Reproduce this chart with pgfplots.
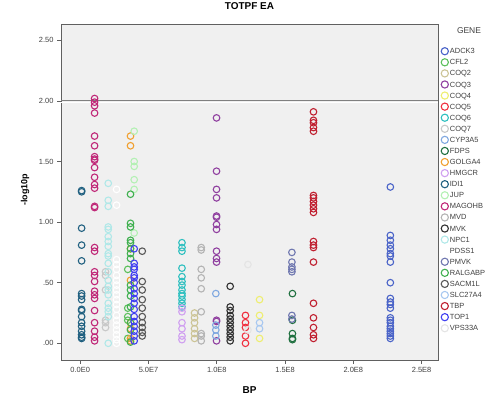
\documentclass[border=0pt]{standalone}
\usepackage{fontspec}
\setmainfont{Liberation Sans}
\usepackage{pgfplots}
\pgfplotsset{compat=1.18}
\definecolor{cADCK3}{HTML}{4A63C8}
\definecolor{cCFL2}{HTML}{5CC05C}
\definecolor{cCOQ2}{HTML}{CCC496}
\definecolor{cCOQ3}{HTML}{9040A0}
\definecolor{cCOQ4}{HTML}{EEEE70}
\definecolor{cCOQ5}{HTML}{F03040}
\definecolor{cCOQ6}{HTML}{30C0C0}
\definecolor{cCOQ7}{HTML}{C8C8C8}
\definecolor{cCYP3A5}{HTML}{80A8E0}
\definecolor{cFDPS}{HTML}{207040}
\definecolor{cGOLGA4}{HTML}{F0A030}
\definecolor{cHMGCR}{HTML}{D0A0F0}
\definecolor{cIDI1}{HTML}{206080}
\definecolor{cJUP}{HTML}{B4F0B4}
\definecolor{cMAGOHB}{HTML}{C02878}
\definecolor{cMVD}{HTML}{B4B4B4}
\definecolor{cMVK}{HTML}{303030}
\definecolor{cNPC1}{HTML}{B0E8E8}
\definecolor{cPDSS1}{HTML}{FFFFFF}
\definecolor{cPMVK}{HTML}{7078B0}
\definecolor{cRALGABP}{HTML}{40B050}
\definecolor{cSACM1L}{HTML}{585858}
\definecolor{cSLC27A4}{HTML}{A8C8F0}
\definecolor{cTBP}{HTML}{C02030}
\definecolor{cTOP1}{HTML}{4040F0}
\definecolor{cVPS33A}{HTML}{E4E4E4}
\definecolor{frame}{HTML}{606060}
\definecolor{txt}{HTML}{404040}
\definecolor{plotbg}{HTML}{F0F0F0}
\pgfplotsset{
  gene/.style={only marks, mark=o, color=#1, mark size=3.3bp, line width=1.1bp,
    legend image code/.code={\draw[color=#1, line width=1.1bp, mark=o, mark size=3.6bp] plot coordinates {(0bp,0bp)};}},
}
\begin{document}
\begin{tikzpicture}
\path[use as bounding box] (0,0) rectangle (501bp,400bp);
\begin{axis}[
  at={(61bp,40bp)}, anchor=south west,
  scale only axis, width=377bp, height=336bp,
  xmin=-1.41e7, xmax=2.62e8, ymin=-0.138, ymax=2.635,
  axis background/.style={fill=plotbg},
  axis line style={frame, line width=0.8bp},
  xtick={0,5e7,1e8,1.5e8,2e8,2.5e8},
  xticklabels={0.0E0,5.0E7,1.0E8,1.5E8,2.0E8,2.5E8},
  ytick={0,0.5,1,1.5,2,2.5},
  yticklabels={.00,.50,1.00,1.50,2.00,2.50},
  xtick pos=lower, ytick pos=left, tick align=outside,
  major tick length=4bp,
  tick style={frame, line width=0.8bp},
  ticklabel style={font=\fontsize{7.5}{8}\selectfont, text=txt},
  scaled x ticks=false,
  title={\textbf{TOTPF EA}},
  title style={font=\fontsize{10}{11}\selectfont, at={(axis description cs:0.5,1)}, anchor=center, yshift=12bp},
  xlabel={\textbf{BP}},
  xlabel style={font=\fontsize{10}{11}\selectfont, at={(axis description cs:0.5,0)}, anchor=center, yshift=-30bp},
  legend style={at={(1,1)}, anchor=north west, xshift=3bp, yshift=-21.5bp,
    draw=none, fill=none, inner sep=0pt, row sep=0pt, column sep=1.5bp,
    font=\fontsize{7.5}{8}\selectfont, text=txt,
    nodes={inner sep=0pt, minimum height=11.08bp, text height=5.6bp, text depth=0.5bp}},
  legend cell align=left,
  clip=false,
]
\addplot[draw=frame!80, line width=0.9bp, no markers, sharp plot, forget plot] coordinates {(-1.41e7,2) (2.62e8,2)};
\addplot[draw=white, line width=0.7bp, no markers, sharp plot, forget plot] coordinates {(-1.41e7,1.988) (2.62e8,1.988)};

\addplot[gene=cADCK3] coordinates {(2.271e8,1.29)(2.271e8,0.89)(2.271e8,0.85)(2.271e8,0.81)(2.271e8,0.78)(2.271e8,0.74)(2.271e8,0.72)(2.271e8,0.67)(2.271e8,0.50)(2.271e8,0.37)(2.271e8,0.34)(2.271e8,0.32)(2.271e8,0.29)(2.271e8,0.21)(2.271e8,0.19)(2.271e8,0.17)(2.271e8,0.14)(2.271e8,0.12)(2.271e8,0.10)(2.271e8,0.08)(2.271e8,0.06)(2.271e8,0.04)};
\addlegendentry{ADCK3}
\addplot[gene=cCFL2] coordinates {(3.48e7,0.61)(3.48e7,0.29)(3.48e7,0.22)(3.48e7,0.19)(3.48e7,0.04)};
\addlegendentry{CFL2}
\addplot[gene=cCOQ2] coordinates {(8.37e7,0.25)(8.37e7,0.21)(8.37e7,0.17)(8.37e7,0.12)(8.37e7,0.08)(8.37e7,0.04)};
\addlegendentry{COQ2}
\addplot[gene=cCOQ3] coordinates {(9.98e7,1.86)(9.98e7,1.42)(9.98e7,1.27)(9.98e7,1.20)(9.98e7,1.05)(9.98e7,1.04)(9.98e7,0.98)(9.98e7,0.94)(9.98e7,0.76)(9.98e7,0.70)(9.98e7,0.67)(9.98e7,0.19)(9.98e7,0.18)(9.98e7,0.02)};
\addlegendentry{COQ3}
\addplot[gene=cCOQ4] coordinates {(1.313e8,0.36)(1.313e8,0.23)(1.313e8,0.04)};
\addlegendentry{COQ4}
\addplot[gene=cCOQ5] coordinates {(1.21e8,0.23)(1.21e8,0.17)(1.21e8,0.13)(1.21e8,0.06)(1.21e8,0.0)};
\addlegendentry{COQ5}
\addplot[gene=cCOQ6] coordinates {(7.45e7,0.83)(7.45e7,0.79)(7.45e7,0.76)(7.45e7,0.62)(7.45e7,0.55)(7.45e7,0.51)(7.45e7,0.48)(7.45e7,0.44)(7.45e7,0.41)(7.45e7,0.39)(7.45e7,0.36)(7.45e7,0.33)(7.45e7,0.30)};
\addlegendentry{COQ6}
\addplot[gene=cCOQ7] coordinates {(1.85e7,0.59)(1.85e7,0.56)(1.85e7,0.44)(1.85e7,0.19)(1.85e7,0.17)(1.85e7,0.13)};
\addlegendentry{COQ7}
\addplot[gene=cCYP3A5] coordinates {(9.93e7,0.41)(9.93e7,0.15)(9.93e7,0.11)(9.93e7,0.06)};
\addlegendentry{CYP3A5}
\addplot[gene=cFDPS] coordinates {(1.554e8,0.41)(1.554e8,0.19)(1.554e8,0.08)(1.554e8,0.04)(1.554e8,0.03)};
\addlegendentry{FDPS}
\addplot[gene=cGOLGA4] coordinates {(3.68e7,1.71)(3.68e7,1.63)(3.68e7,0.78)(3.68e7,0.52)(3.68e7,0.17)(3.68e7,0.12)(3.68e7,0.04)(3.68e7,0.02)};
\addlegendentry{GOLGA4}
\addplot[gene=cHMGCR] coordinates {(7.45e7,0.29)(7.45e7,0.26)(7.45e7,0.17)(7.45e7,0.12)(7.45e7,0.06)(7.45e7,0.03)};
\addlegendentry{HMGCR}
\addplot[gene=cIDI1] coordinates {(1.0e6,1.26)(1.0e6,1.25)(1.0e6,0.95)(1.0e6,0.81)(1.0e6,0.68)(1.0e6,0.41)(1.0e6,0.39)(1.0e6,0.36)(1.0e6,0.28)(1.0e6,0.27)(1.0e6,0.22)(1.0e6,0.17)(1.0e6,0.14)(1.0e6,0.10)(1.0e6,0.07)(1.0e6,0.05)(1.0e6,0.04)};
\addlegendentry{IDI1}
\addplot[gene=cJUP] coordinates {(3.95e7,1.75)(3.95e7,1.50)(3.95e7,1.46)(3.95e7,1.35)(3.95e7,1.27)(3.95e7,0.91)};
\addlegendentry{JUP}
\addplot[gene=cMAGOHB] coordinates {(1.05e7,2.02)(1.05e7,1.99)(1.05e7,1.96)(1.05e7,1.90)(1.05e7,1.71)(1.05e7,1.63)(1.05e7,1.54)(1.05e7,1.52)(1.05e7,1.51)(1.05e7,1.45)(1.05e7,1.37)(1.05e7,1.31)(1.05e7,1.28)(1.05e7,1.13)(1.05e7,1.12)(1.05e7,0.79)(1.05e7,0.76)(1.05e7,0.59)(1.05e7,0.56)(1.05e7,0.51)(1.05e7,0.43)(1.05e7,0.40)(1.05e7,0.37)(1.05e7,0.27)(1.05e7,0.17)(1.05e7,0.10)(1.05e7,0.05)(1.05e7,0.02)};
\addlegendentry{MAGOHB}
\addplot[gene=cMVD] coordinates {(8.86e7,0.79)(8.86e7,0.77)(8.86e7,0.61)(8.86e7,0.54)(8.86e7,0.45)(8.86e7,0.26)(8.86e7,0.08)(8.86e7,0.06)(8.86e7,0.02)};
\addlegendentry{MVD}
\addplot[gene=cMVK] coordinates {(1.098e8,0.47)(1.098e8,0.30)(1.098e8,0.27)(1.098e8,0.23)(1.098e8,0.20)(1.098e8,0.17)(1.098e8,0.14)(1.098e8,0.11)(1.098e8,0.08)(1.098e8,0.05)(1.098e8,0.02)};
\addlegendentry{MVK}
\addplot[gene=cNPC1] coordinates {(2.05e7,1.32)(2.05e7,1.18)(2.05e7,1.13)(2.05e7,0.96)(2.05e7,0.94)(2.05e7,0.88)(2.05e7,0.84)(2.05e7,0.80)(2.05e7,0.74)(2.05e7,0.72)(2.05e7,0.66)(2.05e7,0.59)(2.05e7,0.52)(2.05e7,0.47)(2.05e7,0.44)(2.05e7,0.40)(2.05e7,0.33)(2.05e7,0.29)(2.05e7,0.26)(2.05e7,0.22)(2.05e7,0.0)};
\addlegendentry{NPC1}
\addplot[gene=cPDSS1] coordinates {(2.66e7,1.27)(2.66e7,1.14)(2.66e7,0.69)(2.66e7,0.65)(2.66e7,0.61)(2.66e7,0.56)(2.66e7,0.52)(2.66e7,0.48)(2.66e7,0.44)(2.66e7,0.40)(2.66e7,0.36)(2.66e7,0.32)(2.66e7,0.28)(2.66e7,0.23)(2.66e7,0.19)(2.66e7,0.15)(2.66e7,0.11)(2.66e7,0.07)(2.66e7,0.03)(2.66e7,0.0)};
\addlegendentry{PDSS1}
\addplot[gene=cPMVK] coordinates {(1.55e8,0.75)(1.55e8,0.67)(1.55e8,0.63)(1.55e8,0.61)(1.55e8,0.59)(1.55e8,0.23)(1.55e8,0.20)};
\addlegendentry{PMVK}
\addplot[gene=cRALGABP] coordinates {(3.68e7,1.23)(3.68e7,0.99)(3.68e7,0.96)(3.68e7,0.85)(3.68e7,0.83)(3.68e7,0.78)(3.68e7,0.74)(3.68e7,0.70)(3.68e7,0.48)(3.68e7,0.44)(3.68e7,0.39)(3.68e7,0.30)(3.68e7,0.17)(3.68e7,0.11)(3.68e7,0.01)};
\addlegendentry{RALGABP}
\addplot[gene=cSACM1L] coordinates {(4.54e7,0.76)(4.54e7,0.51)(4.54e7,0.44)(4.54e7,0.36)(4.54e7,0.29)(4.54e7,0.22)(4.54e7,0.17)(4.54e7,0.13)(4.54e7,0.09)(4.54e7,0.06)};
\addlegendentry{SACM1L}
\addplot[gene=cSLC27A4] coordinates {(1.313e8,0.17)(1.313e8,0.12)};
\addlegendentry{SLC27A4}
\addplot[gene=cTBP] coordinates {(1.708e8,1.91)(1.708e8,1.84)(1.708e8,1.82)(1.708e8,1.78)(1.708e8,1.75)(1.708e8,1.22)(1.708e8,1.20)(1.708e8,1.17)(1.708e8,1.14)(1.708e8,1.11)(1.708e8,1.08)(1.708e8,0.84)(1.708e8,0.81)(1.708e8,0.79)(1.708e8,0.67)(1.708e8,0.33)(1.708e8,0.21)(1.708e8,0.13)(1.708e8,0.07)(1.708e8,0.04)};
\addlegendentry{TBP}
\addplot[gene=cTOP1] coordinates {(3.95e7,0.78)(3.95e7,0.66)(3.95e7,0.63)(3.95e7,0.61)(3.95e7,0.56)(3.95e7,0.54)(3.95e7,0.50)(3.95e7,0.45)(3.95e7,0.41)(3.95e7,0.37)(3.95e7,0.33)(3.95e7,0.28)(3.95e7,0.22)(3.95e7,0.18)(3.95e7,0.14)(3.95e7,0.10)(3.95e7,0.06)(3.95e7,0.02)};
\addlegendentry{TOP1}
\addplot[gene=cVPS33A] coordinates {(1.228e8,0.65)(1.228e8,0.11)};
\addlegendentry{VPS33A}
\end{axis}
\node[anchor=center, rotate=90, font=\fontsize{9}{10}\selectfont] at (25bp,210bp) {\textbf{-log10p}};
\node[anchor=center, font=\fontsize{8.5}{9}\selectfont, text=txt] at (469bp,369bp) {GENE};
\end{tikzpicture}
\end{document}
